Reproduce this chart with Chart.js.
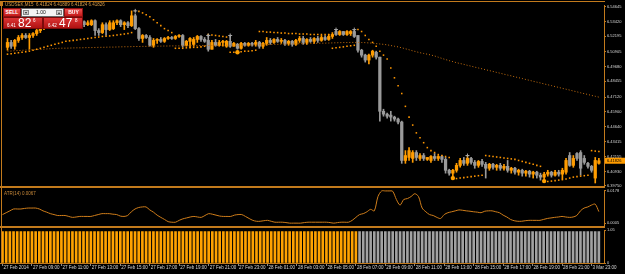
<!DOCTYPE html>
<html>
<head>
<meta charset="utf-8">
<title>USDSEK,M15</title>
<script src="https://cdn.jsdelivr.net/npm/chart.js@4.4.1/dist/chart.umd.min.js"></script>
<style>
  body { margin: 0; background: #000; }
  #wrap { position: relative; width: 625px; height: 274px; overflow: hidden; background: #000; font-family: "Liberation Sans", Arial, sans-serif; }
  canvas { position: absolute; left: 0; }
  .ln { position: absolute; background: #c27a1c; }
  #panel { position: absolute; left: 3px; top: 8px; width: 80px; height: 21px; }
  #panel div, #panel span { position: absolute; box-sizing: border-box; }
  .rb { background: linear-gradient(#ec5050, #c41818); border: 1px solid #8e1010; color: #fff; font-size: 5px; font-weight: bold; text-align: center; line-height: 7px; }
  .lot { background: #f4f4f4; border: 1px solid #666; }
  .arr { background: #d0d0d0; border: 1px solid #888; color: #222; font-size: 4px; line-height: 4px; text-align: center; }
  .pb { background: linear-gradient(#dc3434, #b01212); border: 1px solid #7a0a0a; color: #fff; }
  .sm { font-size: 4.5px; line-height: 5px; }
  .big { font-size: 12px; line-height: 12px; }
</style>
</head>
<body>
<div id="wrap">
  <canvas id="main" width="625" height="192" style="top:0"></canvas>
  <canvas id="atr" width="625" height="41" style="top:187px"></canvas>
  <canvas id="hist" width="625" height="47" style="top:227px"></canvas>
  <div class="ln" style="left:0;top:1px;width:605px;height:1px"></div>
  <div class="ln" style="left:1px;top:1px;width:1px;height:262px"></div>
  <div class="ln" style="left:0;top:186px;width:605px;height:2px"></div>
  <div class="ln" style="left:0;top:226px;width:605px;height:2px"></div>
  <div id="panel">
    <div class="rb" style="left:0;top:0;width:18px;height:9px">SELL</div>
    <div class="lot" style="left:18px;top:0;width:43px;height:9px">
      <div class="arr" style="left:1px;top:1px;width:6px;height:5px">▾</div>
      <span style="left:14px;top:1px;font-size:5px;line-height:5px;color:#111">1.00</span>
      <div class="arr" style="left:34px;top:1px;width:6px;height:5px">▴</div>
    </div>
    <div class="rb" style="left:61px;top:0;width:19px;height:9px">BUY</div>
    <div class="pb" style="left:0;top:9px;width:40px;height:12px">
      <span class="sm" style="left:3px;top:5px">6.41</span>
      <span class="big" style="left:14px;top:-1px">82</span>
      <span class="sm" style="left:29px;top:0">6</span>
    </div>
    <div class="pb" style="left:40px;top:9px;width:40px;height:12px">
      <span class="sm" style="left:4px;top:5px">6.42</span>
      <span class="big" style="left:15px;top:-1px">47</span>
      <span class="sm" style="left:31px;top:0">8</span>
    </div>
  </div>
</div>
<script>
// USDSEK M15 candles, 27 Feb 07:00 onwards
const opens = [
  6.5128, 6.5169, 6.5137, 6.5186, 6.5210, 6.5227, 6.5210, 6.5227, 6.5243, 6.5268,
  6.5292, 6.5317, 6.5301, 6.5333, 6.5350, 6.5325, 6.5342, 6.5358, 6.5333, 6.5350,
  6.5325, 6.5342, 6.5317, 6.5317, 6.5350, 6.5268, 6.5251, 6.5317, 6.5276, 6.5284,
  6.5333, 6.5350, 6.5317, 6.5333, 6.5309, 6.5391, 6.5284, 6.5202, 6.5227, 6.5210,
  6.5145, 6.5186, 6.5194, 6.5178, 6.5202, 6.5210, 6.5202, 6.5219, 6.5227, 6.5145,
  6.5178, 6.5153, 6.5194, 6.5219, 6.5194, 6.5186, 6.5112, 6.5169, 6.5145, 6.5169,
  6.5137, 6.5178, 6.5137, 6.5153, 6.5120, 6.5161, 6.5145, 6.5161, 6.5153, 6.5169,
  6.5137, 6.5161, 6.5186, 6.5169, 6.5194, 6.5178, 6.5186, 6.5161, 6.5178, 6.5153,
  6.5186, 6.5202, 6.5169, 6.5194, 6.5178, 6.5202, 6.5186, 6.5210, 6.5194, 6.5219,
  6.5260, 6.5235, 6.5260, 6.5235, 6.5243, 6.5260, 6.5227, 6.5104, 6.5063, 6.5022,
  6.5063, 6.5087, 6.5046, 6.4595, 6.4571, 6.4563, 6.4546, 6.4530, 6.4505, 6.4185,
  6.4210, 6.4202, 6.4251, 6.4202, 6.4226, 6.4194, 6.4185, 6.4218, 6.4202, 6.4218,
  6.4194, 6.4103, 6.4079, 6.4103, 6.4144, 6.4185, 6.4161, 6.4202, 6.4169, 6.4144,
  6.4177, 6.4153, 6.4120, 6.4153, 6.4128, 6.4144, 6.4120, 6.4136, 6.4103, 6.4120,
  6.4087, 6.4103, 6.4079, 6.4095, 6.4071, 6.4087, 6.4062, 6.4046, 6.4071, 6.4087,
  6.4062, 6.4087, 6.4071, 6.4087, 6.4226, 6.4144, 6.4243, 6.4251, 6.4202, 6.4161,
  6.4136, 6.4038, 6.4161
];
const highs = [
  6.5202, 6.5186, 6.5194, 6.5227, 6.5243, 6.5243, 6.5243, 6.5251, 6.5284, 6.5317,
  6.5333, 6.5333, 6.5350, 6.5366, 6.5366, 6.5358, 6.5374, 6.5374, 6.5366, 6.5358,
  6.5358, 6.5350, 6.5350, 6.5358, 6.5358, 6.5284, 6.5333, 6.5333, 6.5350, 6.5350,
  6.5358, 6.5358, 6.5342, 6.5342, 6.5432, 6.5407, 6.5292, 6.5235, 6.5235, 6.5227,
  6.5202, 6.5202, 6.5210, 6.5210, 6.5219, 6.5219, 6.5227, 6.5235, 6.5235, 6.5186,
  6.5210, 6.5210, 6.5227, 6.5227, 6.5210, 6.5235, 6.5186, 6.5194, 6.5186, 6.5186,
  6.5186, 6.5227, 6.5169, 6.5161, 6.5169, 6.5169, 6.5169, 6.5169, 6.5186, 6.5178,
  6.5169, 6.5210, 6.5202, 6.5202, 6.5210, 6.5202, 6.5194, 6.5186, 6.5186, 6.5194,
  6.5219, 6.5219, 6.5202, 6.5210, 6.5210, 6.5219, 6.5227, 6.5227, 6.5235, 6.5251,
  6.5276, 6.5268, 6.5260, 6.5268, 6.5268, 6.5276, 6.5227, 6.5112, 6.5071, 6.5071,
  6.5104, 6.5096, 6.5046, 6.4612, 6.4579, 6.4595, 6.4554, 6.4538, 6.4513, 6.4267,
  6.4292, 6.4267, 6.4267, 6.4243, 6.4243, 6.4210, 6.4226, 6.4243, 6.4226, 6.4226,
  6.4210, 6.4112, 6.4112, 6.4161, 6.4202, 6.4210, 6.4226, 6.4210, 6.4185, 6.4185,
  6.4194, 6.4169, 6.4161, 6.4161, 6.4153, 6.4161, 6.4153, 6.4185, 6.4128, 6.4128,
  6.4112, 6.4112, 6.4103, 6.4103, 6.4095, 6.4095, 6.4079, 6.4087, 6.4103, 6.4095,
  6.4103, 6.4103, 6.4120, 6.4202, 6.4251, 6.4226, 6.4251, 6.4267, 6.4226, 6.4169,
  6.4144, 6.4210, 6.4202
];
const lows = [
  6.5104, 6.5120, 6.5112, 6.5169, 6.5194, 6.5202, 6.5112, 6.5210, 6.5227, 6.5251,
  6.5276, 6.5284, 6.5292, 6.5317, 6.5309, 6.5317, 6.5325, 6.5317, 6.5325, 6.5309,
  6.5317, 6.5301, 6.5309, 6.5309, 6.5227, 6.5227, 6.5243, 6.5227, 6.5268, 6.5276,
  6.5317, 6.5301, 6.5276, 6.5292, 6.5301, 6.5276, 6.5186, 6.5169, 6.5202, 6.5137,
  6.5128, 6.5161, 6.5169, 6.5169, 6.5194, 6.5194, 6.5194, 6.5210, 6.5128, 6.5137,
  6.5128, 6.5137, 6.5169, 6.5178, 6.5169, 6.5096, 6.5112, 6.5137, 6.5137, 6.5137,
  6.5128, 6.5128, 6.5137, 6.5112, 6.5112, 6.5137, 6.5137, 6.5137, 6.5137, 6.5120,
  6.5120, 6.5145, 6.5153, 6.5161, 6.5169, 6.5161, 6.5145, 6.5145, 6.5137, 6.5145,
  6.5169, 6.5153, 6.5153, 6.5169, 6.5161, 6.5169, 6.5178, 6.5186, 6.5186, 6.5202,
  6.5227, 6.5227, 6.5227, 6.5227, 6.5227, 6.5210, 6.5087, 6.5046, 6.5005, 6.4989,
  6.5046, 6.5030, 6.4513, 6.4554, 6.4538, 6.4513, 6.4513, 6.4489, 6.4161, 6.4161,
  6.4185, 6.4169, 6.4185, 6.4185, 6.4185, 6.4185, 6.4169, 6.4185, 6.4185, 6.4169,
  6.4079, 6.4062, 6.4038, 6.4087, 6.4128, 6.4144, 6.4144, 6.4153, 6.4120, 6.4128,
  6.4136, 6.4038, 6.4103, 6.4112, 6.4103, 6.4103, 6.4103, 6.4087, 6.4079, 6.4071,
  6.4062, 6.4054, 6.4054, 6.4046, 6.4038, 6.4038, 6.4021, 6.4013, 6.4054, 6.4046,
  6.4054, 6.4054, 6.4030, 6.4071, 6.4136, 6.4128, 6.4185, 6.4062, 6.4153, 6.4120,
  6.4087, 6.3997, 6.4153
];
const closes = [
  6.5169, 6.5137, 6.5186, 6.5210, 6.5227, 6.5210, 6.5227, 6.5243, 6.5268, 6.5292,
  6.5317, 6.5301, 6.5333, 6.5350, 6.5325, 6.5342, 6.5358, 6.5333, 6.5350, 6.5325,
  6.5342, 6.5317, 6.5333, 6.5350, 6.5268, 6.5251, 6.5317, 6.5276, 6.5333, 6.5333,
  6.5350, 6.5317, 6.5333, 6.5309, 6.5391, 6.5284, 6.5202, 6.5227, 6.5210, 6.5145,
  6.5186, 6.5194, 6.5178, 6.5202, 6.5210, 6.5202, 6.5219, 6.5227, 6.5145, 6.5178,
  6.5202, 6.5194, 6.5219, 6.5194, 6.5178, 6.5112, 6.5169, 6.5145, 6.5169, 6.5178,
  6.5178, 6.5137, 6.5161, 6.5120, 6.5161, 6.5145, 6.5161, 6.5153, 6.5169, 6.5137,
  6.5161, 6.5186, 6.5169, 6.5194, 6.5178, 6.5186, 6.5161, 6.5178, 6.5153, 6.5186,
  6.5202, 6.5169, 6.5194, 6.5178, 6.5202, 6.5186, 6.5210, 6.5194, 6.5219, 6.5235,
  6.5235, 6.5260, 6.5235, 6.5260, 6.5260, 6.5219, 6.5104, 6.5063, 6.5022, 6.5063,
  6.5096, 6.5046, 6.4595, 6.4571, 6.4554, 6.4546, 6.4530, 6.4505, 6.4185, 6.4226,
  6.4267, 6.4251, 6.4210, 6.4226, 6.4202, 6.4210, 6.4218, 6.4202, 6.4218, 6.4194,
  6.4103, 6.4079, 6.4103, 6.4144, 6.4185, 6.4161, 6.4202, 6.4169, 6.4144, 6.4177,
  6.4153, 6.4120, 6.4153, 6.4128, 6.4144, 6.4120, 6.4136, 6.4103, 6.4120, 6.4087,
  6.4103, 6.4079, 6.4095, 6.4071, 6.4087, 6.4062, 6.4046, 6.4071, 6.4087, 6.4062,
  6.4087, 6.4071, 6.4103, 6.4185, 6.4144, 6.4202, 6.4202, 6.4120, 6.4169, 6.4136,
  6.4103, 6.4185, 6.41826
];
// slow moving average (dotted line)
const maValues = [
  6.5096, 6.5097, 6.5100, 6.5101, 6.5103, 6.5105, 6.5106, 6.5108, 6.5109, 6.5111,
  6.5113, 6.5115, 6.5117, 6.5119, 6.5120, 6.5121, 6.5121, 6.5122, 6.5123, 6.5124,
  6.5124, 6.5125, 6.5126, 6.5126, 6.5127, 6.5128, 6.5128, 6.5129, 6.5130, 6.5130,
  6.5131, 6.5132, 6.5133, 6.5133, 6.5134, 6.5135, 6.5135, 6.5136, 6.5136, 6.5137,
  6.5137, 6.5138, 6.5138, 6.5139, 6.5139, 6.5140, 6.5140, 6.5140, 6.5141, 6.5141,
  6.5142, 6.5142, 6.5142, 6.5143, 6.5143, 6.5143, 6.5144, 6.5144, 6.5144, 6.5145,
  6.5145, 6.5145, 6.5146, 6.5146, 6.5146, 6.5147, 6.5147, 6.5147, 6.5148, 6.5149,
  6.5150, 6.5151, 6.5152, 6.5153, 6.5153, 6.5154, 6.5155, 6.5156, 6.5157, 6.5158,
  6.5158, 6.5159, 6.5160, 6.5161, 6.5161, 6.5162, 6.5163, 6.5163, 6.5164, 6.5165,
  6.5166, 6.5167, 6.5168, 6.5168, 6.5169, 6.5169, 6.5169, 6.5168, 6.5167, 6.5165,
  6.5163, 6.5159, 6.5156, 6.5153, 6.5149, 6.5143, 6.5137, 6.5132, 6.5124, 6.5116,
  6.5108, 6.5099, 6.5091, 6.5083, 6.5077, 6.5071, 6.5064, 6.5056, 6.5046, 6.5036,
  6.5026, 6.5017, 6.5009, 6.5000, 6.4993, 6.4986, 6.4978, 6.4971, 6.4963, 6.4956,
  6.4949, 6.4941, 6.4934, 6.4927, 6.4919, 6.4912, 6.4904, 6.4897, 6.4890, 6.4882,
  6.4875, 6.4868, 6.4860, 6.4853, 6.4845, 6.4838, 6.4831, 6.4823, 6.4816, 6.4809,
  6.4801, 6.4794, 6.4786, 6.4779, 6.4772, 6.4764, 6.4757, 6.4749, 6.4742, 6.4735,
  6.4727, 6.4720, 6.4713
];
// parabolic SAR dots
const sarValues = [
  6.5071, 6.5075, 6.5079, 6.5083, 6.5087, 6.5091, 6.5096, 6.5104, 6.5112, 6.5120,
  6.5128, 6.5137, 6.5145, 6.5153, 6.5161, 6.5169, 6.5178, 6.5182, 6.5186, 6.5190,
  6.5194, 6.5198, 6.5202, 6.5206, 6.5210, 6.5214, 6.5219, 6.5220, 6.5223, 6.5227,
  6.5231, 6.5235, 6.5239, 6.5243, 6.5251, 6.5432, 6.5428, 6.5415, 6.5399, 6.5383,
  6.5358, 6.5333, 6.5309, 6.5284, 6.5268, 6.5251, 6.5120, 6.5120, 6.5120, 6.5124,
  6.5124, 6.5128, 6.5128, 6.5132, 6.5137, 6.5235, 6.5231, 6.5227, 6.5223, 6.5219,
  6.5214, 6.5087, 6.5087, 6.5091, 6.5091, 6.5096, 6.5096, 6.5100, 6.5104, 6.5260,
  6.5260, 6.5255, 6.5255, 6.5251, 6.5251, 6.5247, 6.5247, 6.5243, 6.5243, 6.5243,
  6.5239, 6.5239, 6.5239, 6.5235, 6.5235, 6.5235, 6.5235, 6.5235, 6.5235, 6.5120,
  6.5124, 6.5128, 6.5132, 6.5137, 6.5141, 6.5145, 6.5276, 6.5260, 6.5227, 6.5194,
  6.5169, 6.5137, 6.5096, 6.5063, 6.5030, 6.4956, 6.4874, 6.4808, 6.4743, 6.4636,
  6.4546, 6.4480, 6.4415, 6.4374, 6.4333, 6.4292, 6.4267, 6.4251, 6.4234, 6.4226,
  6.4218, 6.4210, 6.4030, 6.4034, 6.4038, 6.4042, 6.4046, 6.4050, 6.4054, 6.4058,
  6.4062, 6.4226, 6.4222, 6.4218, 6.4214, 6.4210, 6.4206, 6.4202, 6.4198, 6.4194,
  6.4185, 6.4177, 6.4169, 6.4161, 6.4153, 6.4144, 6.4136, 6.4005, 6.4009, 6.4013,
  6.4017, 6.4021, 6.4025, 6.4030, 6.4038, 6.4046, 6.4050, 6.4054, 6.4058, 6.4062,
  6.4267, 6.4263, 6.4259
];
// signal markers on the price pane
const dotIdx = [63, 122, 147];
const dotPrice = [6.5087, 6.4038, 6.4013];
const crossIdx = [35, 55, 61, 90, 95, 126];
const crossPrice = [6.5432, 6.5227, 6.5227, 6.5276, 6.5276, 6.4226];
// ATR sub window
const atrValues = [
  0.0051, 0.0061, 0.0071, 0.0081, 0.0081, 0.0081, 0.0084, 0.0086, 0.0086, 0.0086,
  0.0081, 0.0071, 0.0064, 0.0056, 0.0051, 0.0046, 0.0046, 0.0046, 0.0041, 0.0036,
  0.0038, 0.0041, 0.0041, 0.0041, 0.0041, 0.0046, 0.0051, 0.0056, 0.0056, 0.0056,
  0.0053, 0.0051, 0.0043, 0.0041, 0.0046, 0.0066, 0.0081, 0.0089, 0.0092, 0.0092,
  0.0076, 0.0064, 0.0048, 0.0036, 0.0025, 0.0013, 0.0010, 0.0010, 0.0020, 0.0028,
  0.0033, 0.0038, 0.0041, 0.0038, 0.0036, 0.0046, 0.0056, 0.0053, 0.0048, 0.0043,
  0.0041, 0.0041, 0.0041, 0.0048, 0.0051, 0.0051, 0.0041, 0.0030, 0.0020, 0.0015,
  0.0015, 0.0018, 0.0020, 0.0015, 0.0010, 0.0010, 0.0010, 0.0008, 0.0005, 0.0005,
  0.0005, 0.0005, 0.0008, 0.0010, 0.0010, 0.0010, 0.0010, 0.0010, 0.0010, 0.0008,
  0.0005, 0.0008, 0.0010, 0.0010, 0.0010, 0.0020, 0.0036, 0.0051, 0.0056, 0.0066,
  0.0079, 0.0071, 0.0148, 0.0178, 0.0178, 0.0178, 0.0176, 0.0132, 0.0102, 0.0132,
  0.0137, 0.0148, 0.0163, 0.0148, 0.0086, 0.0066, 0.0051, 0.0046, 0.0036, 0.0030,
  0.0051, 0.0061, 0.0066, 0.0071, 0.0076, 0.0074, 0.0071, 0.0069, 0.0066, 0.0064,
  0.0061, 0.0069, 0.0071, 0.0071, 0.0066, 0.0061, 0.0048, 0.0038, 0.0025, 0.0018,
  0.0015, 0.0015, 0.0018, 0.0020, 0.0020, 0.0020, 0.0020, 0.0025, 0.0030, 0.0033,
  0.0036, 0.0038, 0.0041, 0.0038, 0.0036, 0.0038, 0.0046, 0.0071, 0.0086, 0.0092,
  0.0102, 0.0107, 0.0067
];
// bottom histogram (orange until the session switch, grey after), 163 bars
const histValues = [
  1, 1, 1, 1, 1, 1, 1, 1, 1, 1,  1, 1, 1, 1, 1, 1, 1, 1, 1, 1,
  1, 1, 1, 1, 1, 1, 1, 1, 1, 1,  1, 1, 1, 1, 1, 1, 1, 1, 1, 1,
  1, 1, 1, 1, 1, 1, 1, 1, 1, 1,  1, 1, 1, 1, 1, 1, 1, 1, 1, 1,
  1, 1, 1, 1, 1, 1, 1, 1, 1, 1,  1, 1, 1, 1, 1, 1, 1, 1, 1, 1,
  1, 1, 1, 1, 1, 1, 1, 1, 1, 1,  1, 1, 1, 1, 1, 1, 1, 1, 1, 1,
  1, 1, 1, 1, 1, 1, 1, 1, 1, 1,  1, 1, 1, 1, 1, 1, 1, 1, 1, 1,
  1, 1, 1, 1, 1, 1, 1, 1, 1, 1,  1, 1, 1, 1, 1, 1, 1, 1, 1, 1,
  1, 1, 1, 1, 1, 1, 1, 1, 1, 1,  1, 1, 1, 1, 1, 1, 1, 1, 1, 1,
  1, 1, 1
];
const histSplit = 97;

const priceTicks = [6.54645, 6.53420, 6.52195, 6.50905, 6.49680, 6.48455, 6.47120,
                    6.45900, 6.44640, 6.43415, 6.42155, 6.40930, 6.39750];
const atrTicks = [0.0005, 0.0178];
const histTicks = [0, 1.05];
const timeTicks = ['27 Feb 2014', '27 Feb 09:00', '27 Feb 11:00', '27 Feb 13:00', '27 Feb 15:00',
  '27 Feb 17:00', '27 Feb 19:00', '27 Feb 21:00', '27 Feb 23:00', '28 Feb 01:00', '28 Feb 03:00',
  '28 Feb 05:00', '28 Feb 07:00', '28 Feb 09:00', '28 Feb 11:00', '28 Feb 13:00', '28 Feb 15:00',
  '28 Feb 17:00', '28 Feb 19:00', '28 Feb 21:00', '3 Mar 23:00'];
const titleText = 'USDSEK,M15  6.41824 6.41889 6.41824 6.41826';
const atrTitle = 'ATR(14) 0.0067';

const ORANGE = '#ff9c00';
const GRAY = '#9a9a9a';
const FRAME = '#c27a1c';
const LABEL = '#d6d6d6';
const FONT = 'Liberation Sans';

const idx = closes.map((_, i) => i);
const candleColor = c => closes[c.dataIndex] >= opens[c.dataIndex] ? ORANGE : GRAY;

const xAxis = show => ({
  type: 'linear', min: -0.68, max: 163.4, display: show, offset: false,
  grid: { offset: false, drawOnChartArea: false }
});

const rightAxis = (ticks, fmt, extra) => Object.assign({
  position: 'right',
  afterFit: s => { s.width = 21; },
  afterBuildTicks: s => { s.ticks = ticks.map(v => ({ value: v })); },
  border: { color: FRAME, width: 1 },
  grid: { drawOnChartArea: false, tickLength: 2, tickColor: FRAME, offset: false },
  ticks: { color: LABEL, padding: 1, font: { family: FONT, size: 4, lineHeight: 1 }, callback: fmt }
}, extra);

const common = {
  animation: false,
  responsive: false,
  devicePixelRatio: 1,
  events: [],
  plugins: { legend: { display: false }, tooltip: { enabled: false } }
};

const mainDecor = {
  id: 'mainDecor',
  afterDraw(chart) {
    const ctx = chart.ctx;
    const area = chart.chartArea;
    ctx.save();
    ctx.fillStyle = FRAME;
    ctx.fillRect(0, 2, 3, 4);
    ctx.font = '4.5px "' + FONT + '"';
    ctx.fillStyle = '#d79c48';
    ctx.textBaseline = 'middle';
    ctx.fillText(titleText, 5, 4.5);
    const last = closes[closes.length - 1];
    const y = chart.scales.y.getPixelForValue(last);
    ctx.fillStyle = ORANGE;
    ctx.fillRect(area.right + 1, y - 3, 21, 6);
    ctx.fillStyle = '#000';
    ctx.font = '4px "' + FONT + '"';
    ctx.fillText(last.toFixed(5), area.right + 3, y + 0.3);
    ctx.restore();
  }
};

new Chart(document.getElementById('main'), {
  type: 'bar',
  data: {
    datasets: [
      { type: 'bar', data: idx.map(i => ({ x: i, y: [lows[i], highs[i]] })), backgroundColor: candleColor,
        barThickness: 1, grouped: false, order: 5 },
      { type: 'bar', data: idx.map(i => ({ x: i, y: [opens[i], closes[i]] })), backgroundColor: candleColor,
        barThickness: 2.6, minBarLength: 1, grouped: false, order: 4 },
      { type: 'line', data: idx.map(i => ({ x: i, y: maValues[i] })), borderColor: '#c8700f', borderWidth: 1,
        borderDash: [1, 2], pointRadius: 0, tension: 0, order: 3 },
      { type: 'scatter', data: idx.map(i => ({ x: i, y: sarValues[i] })), pointStyle: 'rect', pointRadius: 1.1,
        backgroundColor: '#ff9600', borderWidth: 0, order: 2 },
      { type: 'scatter', data: dotIdx.map((d, k) => ({ x: d, y: dotPrice[k] })), pointRadius: 2.2,
        backgroundColor: '#ffa000', borderWidth: 0, order: 1 },
      { type: 'scatter', data: crossIdx.map((d, k) => ({ x: d, y: crossPrice[k] })), pointStyle: 'cross',
        pointRadius: 2, borderColor: '#a8a8a8', borderWidth: 1, order: 1 }
    ]
  },
  options: Object.assign({}, common, {
    layout: { padding: { top: 1, bottom: 6, left: 0, right: 0 } },
    scales: {
      x: xAxis(false),
      y: rightAxis(priceTicks, v => v.toFixed(5), { min: 6.3972, max: 6.5481 })
    }
  }),
  plugins: [mainDecor]
});

const atrDecor = {
  id: 'atrDecor',
  afterDraw(chart) {
    const ctx = chart.ctx;
    ctx.save();
    ctx.font = '4.5px "' + FONT + '"';
    ctx.fillStyle = '#c98a3a';
    ctx.textBaseline = 'middle';
    ctx.fillText(atrTitle, 4, 6.5);
    ctx.restore();
  }
};

new Chart(document.getElementById('atr'), {
  type: 'line',
  data: {
    datasets: [
      { data: idx.map(i => ({ x: i, y: atrValues[i] })), borderColor: '#cf7d1a', borderWidth: 1,
        pointRadius: 0, tension: 0.3 }
    ]
  },
  options: Object.assign({}, common, {
    layout: { padding: { top: 2, bottom: 2, left: 0, right: 0 } },
    scales: {
      x: xAxis(false),
      y: rightAxis(atrTicks, v => v.toFixed(4), { min: -0.0005, max: 0.0183 })
    }
  }),
  plugins: [atrDecor]
});

new Chart(document.getElementById('hist'), {
  type: 'bar',
  data: {
    datasets: [
      { data: idx.map(i => ({ x: i, y: histValues[i] })), barThickness: 2, grouped: false,
        backgroundColor: c => c.dataIndex < histSplit ? '#ffa200' : '#a2a2a2' }
    ]
  },
  options: Object.assign({}, common, {
    layout: { padding: { top: 2, bottom: 0, left: 0, right: 0 } },
    scales: {
      x: Object.assign(xAxis(true), {
        position: 'bottom',
        afterFit: s => { s.height = 11; },
        afterBuildTicks: s => { s.ticks = timeTicks.map((t, k) => ({ value: k * 8 })); },
        border: { color: FRAME, width: 1 },
        grid: { offset: false, drawOnChartArea: false, tickLength: 3, tickColor: '#8a8a8a' },
        ticks: { color: LABEL, align: 'start', labelOffset: 1, padding: 0, maxRotation: 0, autoSkip: false,
          font: { family: FONT, size: 4.5, lineHeight: 1 }, callback: v => timeTicks[v / 8] }
      }),
      y: rightAxis(histTicks, v => v === 0 ? '0' : v.toFixed(2), { min: 0, max: 1.05 })
    }
  })
});
</script>
</body>
</html>
